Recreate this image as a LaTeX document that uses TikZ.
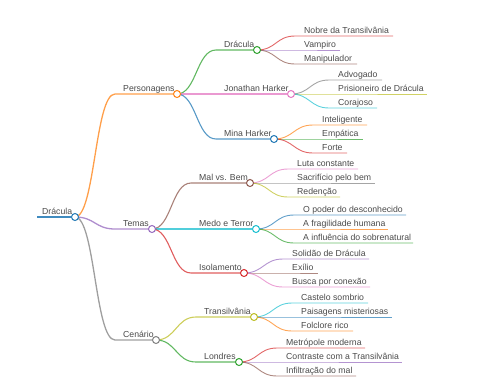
\documentclass[tikz,border=0pt]{standalone}
\usepackage{fontspec}
\setmainfont{Liberation Sans}
\usetikzlibrary{calc}
\pgfdeclarelayer{bg}\pgfsetlayers{bg,main}
\definecolor{cBlue}{HTML}{1F77B4}
\definecolor{cOrange}{HTML}{FF7F0E}
\definecolor{cGreen}{HTML}{2CA02C}
\definecolor{cRed}{HTML}{D62728}
\definecolor{cPurple}{HTML}{9467BD}
\definecolor{cBrown}{HTML}{8C564B}
\definecolor{cPink}{HTML}{E377C2}
\definecolor{cGray}{HTML}{7F7F7F}
\definecolor{cOlive}{HTML}{BCBD22}
\definecolor{cCyan}{HTML}{17BECF}
\definecolor{txt}{HTML}{4A4A4A}
\tikzset{
  lbl/.style={anchor=base west, inner sep=0pt, font=\fontsize{8.7}{10}\selectfont, text=txt},
  dot/.style={circle, draw=#1, fill=white, minimum size=7pt, inner sep=0pt, line width=1pt},
  lzero/.style={line width=1.8pt, draw opacity=0.85},
  lone/.style={line width=1.3pt, draw opacity=0.75},
  ltwo/.style={line width=1.1pt, draw opacity=0.75},
  lthree/.style={line width=0.9pt, draw opacity=0.7},
}
\newcommand\mmlink[4]{%
  \begin{pgfonlayer}{bg}
  \draw[#1] let \p1=(#2), \p2=(#3) in (\p1) .. controls ({0.5*\x1+0.5*\x2},\y1) and ({0.5*\x1+0.5*\x2},\y2) .. (\p2) -- (#4);
  \end{pgfonlayer}}
\newcommand\mmleaf[7]{% name, color, parent, y, startx, endx, text
  \coordinate (#1s) at (#5,#4);
  \coordinate (#1e) at (#6,#4);
  \node[lbl] (#1t) at ({#5+9},{#4-3}) {#7};
  \mmlink{lthree,#2}{#3}{#1s}{#1e}}
\newcommand\mminner[8]{% name, color, parent, y, startx, circlex, text, linestyle
  \coordinate (#1s) at (#5,#4);
  \node[dot=#2] (#1) at (#6,#4) {};
  \node[lbl] (#1t) at ({#5+8},{#4-3}) {#7};
  \mmlink{#8,#2}{#3}{#1s}{#1}}
\begin{document}
\begin{tikzpicture}[x=1pt,y=-1pt]
\path[use as bounding box] (0,0) rectangle (480,384);
% root
\coordinate (R0) at (37,217);
\node[dot=cBlue] (R) at (75,217) {};
\node[lbl] (Rt) at (42,214) {Drácula};
\begin{pgfonlayer}{bg}\draw[lzero,cBlue] (R0) -- (R);\end{pgfonlayer}
% level 1
\mminner{P}{cOrange}{R}{94}{115}{177}{Personagens}{lone}
\mminner{T}{cPurple}{R}{229}{115}{152}{Temas}{lone}
\mminner{C}{cGray}{R}{340}{115}{156}{Cenário}{lone}
% level 2
\mminner{D}{cGreen}{P}{50}{216}{257}{Drácula}{ltwo}
\mminner{J}{cPink}{P}{94}{216}{291}{Jonathan Harker}{ltwo}
\mminner{M}{cBlue}{P}{139}{216}{274}{Mina Harker}{ltwo}
\mminner{MB}{cBrown}{T}{183}{191}{250}{Mal vs. Bem}{ltwo}
\mminner{MT}{cCyan}{T}{229}{191}{256}{Medo e Terror}{ltwo}
\mminner{IS}{cRed}{T}{273}{191}{244}{Isolamento}{ltwo}
\mminner{TR}{cOlive}{C}{317}{196}{254}{Transilvânia}{ltwo}
\mminner{LO}{cGreen}{C}{362}{196}{239}{Londres}{ltwo}
% level 3
\mmleaf{da}{cRed}{D}{36}{295}{393}{Nobre da Transilvânia}
\mmleaf{db}{cPurple}{D}{50}{295}{340}{Vampiro}
\mmleaf{dc}{cBrown}{D}{64}{295}{357}{Manipulador}
\mmleaf{ja}{cGray}{J}{80}{329}{382}{Advogado}
\mmleaf{jb}{cOlive}{J}{94}{329}{427}{Prisioneiro de Drácula}
\mmleaf{jc}{cCyan}{J}{108}{329}{377}{Corajoso}
\mmleaf{ma}{cOrange}{M}{125}{313}{367}{Inteligente}
\mmleaf{mb}{cGreen}{M}{139}{313}{363}{Empática}
\mmleaf{mc}{cRed}{M}{153}{313}{347}{Forte}
\mmleaf{ba}{cPink}{MB}{169}{288}{358}{Luta constante}
\mmleaf{bb}{cGray}{MB}{183}{288}{375}{Sacrifício pelo bem}
\mmleaf{bc}{cOlive}{MB}{197}{288}{340}{Redenção}
\mmleaf{ta}{cBlue}{MT}{215}{294}{406}{O poder do desconhecido}
\mmleaf{tb}{cOrange}{MT}{229}{294}{388}{A fragilidade humana}
\mmleaf{tc}{cGreen}{MT}{243}{294}{413}{A influência do sobrenatural}
\mmleaf{ia}{cPurple}{IS}{259}{283}{369}{Solidão de Drácula}
\mmleaf{ib}{cBrown}{IS}{273}{283}{318}{Exílio}
\mmleaf{ic}{cPink}{IS}{287}{283}{370}{Busca por conexão}
\mmleaf{ra}{cCyan}{TR}{303}{292}{368}{Castelo sombrio}
\mmleaf{rb}{cBlue}{TR}{317}{292}{392}{Paisagens misteriosas}
\mmleaf{rc}{cOrange}{TR}{331}{292}{353}{Folclore rico}
\mmleaf{la}{cRed}{LO}{348}{277}{365}{Metrópole moderna}
\mmleaf{lb}{cPurple}{LO}{362}{277}{402}{Contraste com a Transilvânia}
\mmleaf{lc}{cBrown}{LO}{376}{277}{356}{Infiltração do mal}
\end{tikzpicture}
\end{document}
